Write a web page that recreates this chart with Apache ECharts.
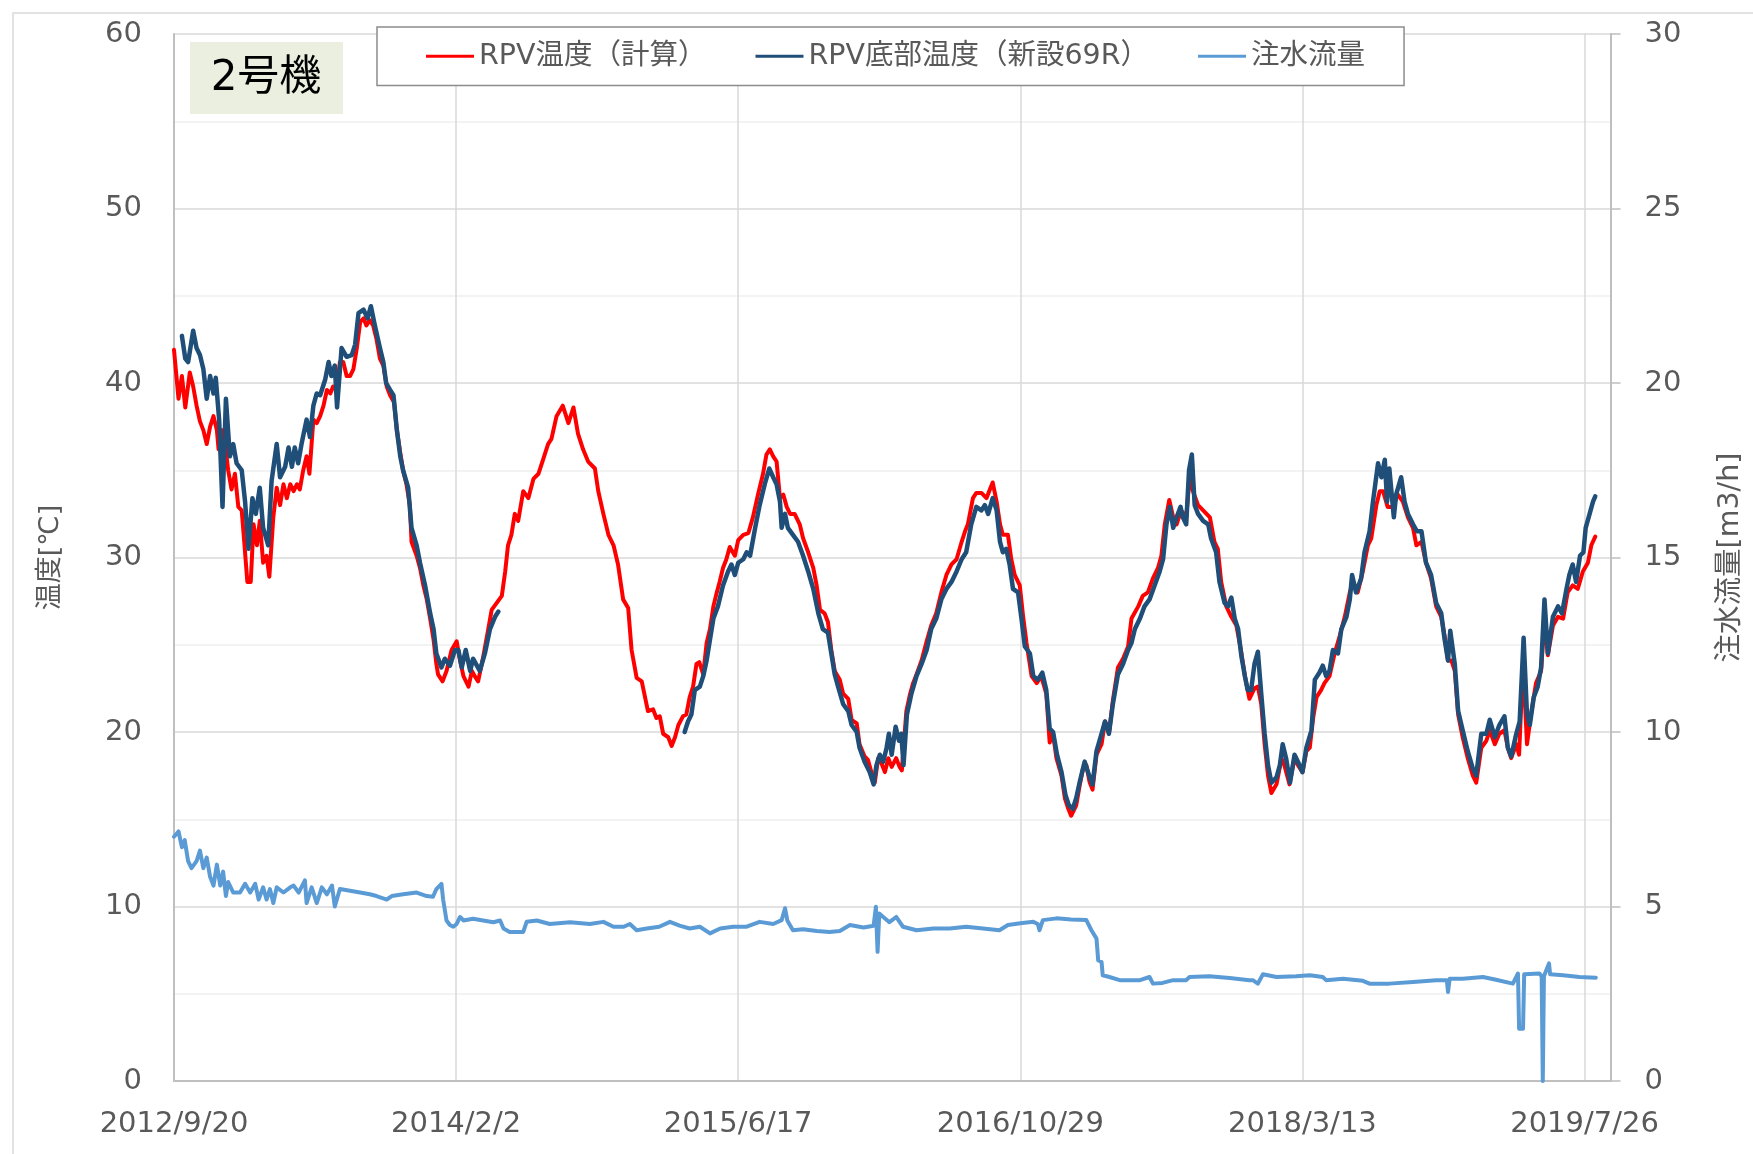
<!DOCTYPE html>
<html>
<head>
<meta charset="utf-8">
<script src="https://cdn.jsdelivr.net/npm/echarts@6/dist/echarts.min.js"></script>
<style>
  html, body { margin: 0; padding: 0; background: #ffffff; }
  #chart { width: 1753px; height: 1154px; }
</style>
</head>
<body>
<div id="chart"></div>
<script>
// Unit 2 RPV temperatures and water injection flow.
// x values are days counted from 2012/9/20.

const START_DATE = [2012, 9, 20];
const X_MAX_DAY = 2546;
const X_TICK_DAYS = 500;

const unitLabel = '2号機';
const seriesNames = ['RPV温度（計算）', 'RPV底部温度（新設69R）', '注水流量'];
const axisNames = ['温度[℃]', '注水流量[m3/h]'];

// RPV temperature (calculated), °C
const rpvCalc = [
  [0,41.9],[8,39.1],[14,40.4],[20,38.6],[28,40.6],[34,39.8],[40,38.7],[46,37.8],[52,37.3],[58,36.5],
  [64,37.5],[70,38.1],[76,37.3],[79,36.2],[85,37.3],[91,36.4],[96,35.0],[102,33.9],[108,34.8],[114,32.9],
  [120,32.7],[124,31.1],[130,28.6],[136,28.6],[141,31.9],[147,30.7],[152,32.1],[158,29.7],[164,30.1],[169,28.9],
  [176,32.3],[182,34.0],[188,33.0],[194,34.2],[200,33.4],[206,34.2],[212,33.8],[218,34.2],[223,33.9],[229,35.0],
  [235,35.8],[240,34.8],[247,37.9],[253,37.7],[259,38.1],[265,38.7],[271,39.6],[277,39.4],[282,39.8],[288,39.6],
  [294,41.2],[300,41.2],[306,40.4],[312,40.4],[318,40.8],[324,42.0],[330,43.5],[336,43.7],[341,43.3],[347,43.6],
  [353,43.3],[359,42.5],[365,41.4],[371,41.0],[377,39.8],[383,39.3],[390,38.9],[395,37.3],[401,36.0],[406,35.0],
  [412,34.2],[418,33.0],[421,30.9],[430,30.1],[436,29.4],[442,28.4],[448,27.6],[454,26.5],[460,25.3],[465,23.9],
  [468,23.3],[476,22.9],[483,23.5],[492,24.7],[501,25.2],[507,24.1],[513,23.2],[522,22.6],[528,23.5],[533,23.2],
  [539,22.9],[548,24.3],[557,25.9],[563,27.0],[572,27.4],[581,27.8],[587,29.2],[592,30.7],[598,31.3],[604,32.5],
  [610,32.1],[619,33.8],[628,33.4],[637,34.5],[646,34.8],[654,35.6],[663,36.5],[669,36.8],[678,38.1],[689,38.7],
  [699,37.7],[708,38.6],[716,37.1],[725,36.2],[734,35.5],[746,35.1],[752,33.8],[761,32.5],[770,31.3],[779,30.7],
  [787,29.6],[796,27.6],[805,27.1],[811,24.7],[820,23.1],[829,22.9],[840,21.2],[849,21.3],[855,20.8],[861,20.9],
  [867,19.9],[876,19.7],[882,19.2],[888,19.7],[894,20.4],[902,20.9],[908,21.0],[914,22.0],[920,22.6],[926,23.9],
  [931,24.0],[938,23.3],[944,25.1],[950,25.9],[956,27.2],[962,28.0],[967,28.6],[973,29.4],[979,29.9],[985,30.6],
  [994,30.1],[1000,31.0],[1009,31.3],[1018,31.4],[1026,32.3],[1035,33.6],[1044,34.8],[1050,35.9],[1056,36.2],[1062,35.8],
  [1068,35.5],[1074,33.4],[1080,33.6],[1086,32.9],[1092,32.5],[1100,32.5],[1109,31.9],[1115,31.1],[1124,30.3],[1133,29.4],
  [1139,28.4],[1145,27.0],[1153,26.8],[1159,26.3],[1165,24.7],[1171,23.5],[1180,23.0],[1186,22.2],[1195,21.9],[1201,20.7],
  [1210,20.5],[1215,19.3],[1224,18.6],[1230,18.4],[1236,17.7],[1242,17.1],[1248,18.5],[1254,18.2],[1260,17.7],[1266,18.5],
  [1272,18.0],[1280,18.5],[1286,18.0],[1290,17.8],[1298,21.2],[1304,22.1],[1310,22.8],[1316,23.3],[1325,24.1],[1334,25.2],
  [1342,26.1],[1351,26.8],[1360,28.0],[1369,29.0],[1378,29.6],[1387,29.9],[1396,30.9],[1402,31.5],[1407,31.9],[1416,33.4],
  [1422,33.7],[1431,33.7],[1440,33.4],[1446,33.9],[1451,34.3],[1458,33.2],[1464,31.9],[1469,31.3],[1478,31.3],[1484,29.9],
  [1490,29.0],[1499,28.4],[1505,26.6],[1511,25.1],[1520,23.2],[1529,22.8],[1537,23.2],[1546,22.2],[1552,19.4],[1558,19.9],
  [1564,18.5],[1573,17.5],[1579,16.2],[1585,15.6],[1590,15.2],[1599,15.8],[1605,16.9],[1611,17.9],[1617,18.1],[1623,17.1],
  [1628,16.7],[1635,18.7],[1644,19.3],[1650,20.6],[1658,20.1],[1664,21.8],[1673,23.7],[1682,24.2],[1691,24.9],[1697,26.5],
  [1709,27.2],[1717,27.8],[1726,28.0],[1735,28.8],[1744,29.4],[1750,30.1],[1756,31.9],[1764,33.3],[1771,32.3],[1777,31.9],
  [1785,32.7],[1794,32.3],[1800,34.6],[1806,33.8],[1815,33.0],[1824,32.7],[1836,32.3],[1844,30.9],[1850,30.5],[1856,28.6],
  [1865,27.2],[1874,26.6],[1883,26.1],[1892,24.5],[1898,23.2],[1906,21.9],[1915,22.5],[1921,22.6],[1927,21.6],[1933,19.3],
  [1939,17.5],[1945,16.5],[1954,17.0],[1963,18.5],[1968,18.1],[1977,17.0],[1986,18.5],[1992,18.1],[2000,17.7],[2007,18.9],
  [2013,19.1],[2019,20.8],[2025,22.0],[2033,22.4],[2039,22.8],[2048,23.2],[2057,24.5],[2066,25.5],[2075,26.6],[2084,28.0],
  [2090,28.6],[2098,28.0],[2107,29.2],[2116,30.7],[2122,31.1],[2131,33.0],[2137,33.8],[2143,33.8],[2151,32.9],[2160,32.9],
  [2169,33.6],[2178,33.2],[2187,32.3],[2196,31.7],[2202,30.7],[2211,30.9],[2219,29.7],[2228,28.8],[2237,27.2],[2246,26.6],
  [2252,25.5],[2258,24.1],[2264,24.1],[2270,23.5],[2276,21.0],[2284,19.7],[2293,18.5],[2302,17.5],[2308,17.1],[2317,19.1],
  [2326,19.5],[2332,20.1],[2341,19.3],[2349,19.9],[2358,20.1],[2364,19.1],[2370,18.5],[2379,19.3],[2384,18.7],[2391,24.0],
  [2398,19.3],[2406,21.2],[2414,22.8],[2423,23.5],[2429,26.5],[2435,24.4],[2444,26.1],[2453,26.6],[2462,26.5],[2470,28.0],
  [2479,28.4],[2488,28.2],[2497,29.2],[2506,29.7],[2512,30.7],[2519,31.2]
];

// RPV bottom temperature (new thermometer 69R), °C; the null marks the gap in records
const rpvBottom = [
  [14,42.7],[20,41.4],[25,41.2],[34,43.0],[40,42.0],[46,41.6],[52,40.8],[58,39.1],[64,40.4],[70,39.4],
  [74,40.3],[80,37.9],[86,32.9],[92,39.1],[99,35.8],[105,36.5],[111,35.4],[120,35.0],[126,33.2],[132,30.5],
  [139,33.4],[145,32.5],[152,34.0],[158,31.7],[167,30.7],[173,34.4],[182,36.5],[188,34.6],[197,35.2],[203,36.3],
  [209,35.2],[214,36.3],[220,35.4],[226,36.5],[235,37.9],[241,36.9],[247,38.7],[253,39.4],[259,39.3],[268,40.2],
  [274,41.2],[279,40.4],[285,41.0],[289,38.6],[297,42.0],[306,41.5],[315,41.6],[321,42.2],[327,44.0],[336,44.2],
  [343,43.7],[349,44.4],[356,43.3],[365,42.0],[371,41.2],[376,40.0],[383,39.6],[389,39.3],[395,37.3],[401,35.8],
  [406,35.0],[415,34.0],[421,31.7],[430,30.7],[436,29.7],[445,28.4],[454,26.8],[460,25.9],[465,24.5],[474,23.7],
  [480,24.2],[489,23.8],[498,24.7],[504,24.7],[510,23.7],[517,24.7],[525,23.5],[530,24.2],[542,23.5],[551,24.5],
  [560,25.9],[569,26.6],[575,26.9],[740,null],
  [905,20.0],[911,20.6],[917,21.0],[923,22.4],[932,22.6],[938,23.2],[944,24.1],[950,25.3],[956,26.5],[964,27.2],
  [973,28.4],[982,29.2],[988,29.6],[994,29.0],[1000,29.7],[1009,29.9],[1015,30.3],[1021,30.1],[1030,31.7],[1038,33.0],
  [1047,34.2],[1055,35.1],[1062,34.6],[1068,34.2],[1074,33.2],[1077,31.7],[1083,32.5],[1088,31.7],[1097,31.3],[1106,30.9],
  [1115,30.1],[1124,29.2],[1133,28.2],[1142,26.8],[1150,25.9],[1159,25.7],[1165,24.5],[1171,23.3],[1177,22.6],[1186,21.6],
  [1195,21.2],[1201,20.4],[1210,20.0],[1215,19.1],[1224,18.3],[1233,17.7],[1240,17.0],[1245,18.1],[1251,18.7],[1257,18.3],
  [1263,19.1],[1267,19.9],[1272,18.7],[1279,20.3],[1285,19.5],[1289,19.9],[1293,18.1],[1299,21.0],[1307,22.2],[1316,23.2],
  [1325,23.9],[1334,24.7],[1342,25.9],[1351,26.5],[1360,27.6],[1369,28.2],[1378,28.6],[1387,29.2],[1396,29.9],[1404,30.3],
  [1413,31.9],[1422,32.9],[1431,32.7],[1437,33.0],[1443,32.5],[1451,33.4],[1458,32.7],[1464,30.9],[1469,30.3],[1475,30.5],
  [1481,29.6],[1487,28.2],[1496,28.0],[1502,26.5],[1508,24.9],[1517,24.5],[1523,23.2],[1531,23.0],[1539,23.4],[1546,22.4],
  [1552,20.2],[1558,20.0],[1565,18.7],[1573,17.7],[1580,16.4],[1586,15.8],[1593,15.6],[1599,16.2],[1605,17.1],[1614,18.3],
  [1622,17.5],[1628,17.0],[1635,18.9],[1644,19.9],[1650,20.6],[1657,19.9],[1664,21.6],[1673,23.3],[1682,23.9],[1691,24.7],
  [1697,25.1],[1703,25.9],[1712,26.5],[1720,27.2],[1729,27.6],[1738,28.4],[1747,29.2],[1753,29.9],[1759,31.9],[1765,32.9],
  [1771,31.7],[1777,32.3],[1784,32.9],[1788,32.3],[1794,31.9],[1799,35.0],[1804,35.9],[1809,33.0],[1815,32.5],[1824,32.1],
  [1833,31.9],[1838,31.1],[1847,30.3],[1853,28.6],[1862,27.4],[1868,27.2],[1874,27.7],[1880,26.5],[1886,25.9],[1892,24.3],
  [1898,23.2],[1903,22.4],[1909,22.4],[1915,23.9],[1921,24.6],[1927,22.2],[1933,19.9],[1939,18.1],[1945,17.1],[1954,17.4],
  [1960,18.1],[1965,19.3],[1971,18.5],[1978,17.1],[1986,18.7],[1992,18.3],[2000,17.7],[2007,19.1],[2016,20.1],[2022,23.0],
  [2030,23.4],[2036,23.8],[2042,23.2],[2048,23.5],[2054,24.7],[2063,24.5],[2069,25.9],[2078,26.6],[2084,27.6],[2088,29.0],
  [2095,28.0],[2104,28.8],[2110,30.3],[2119,31.5],[2125,33.2],[2134,35.4],[2140,34.6],[2146,35.6],[2150,33.2],[2154,35.1],
  [2162,32.3],[2166,33.6],[2175,34.6],[2181,33.2],[2187,32.5],[2196,31.9],[2203,31.5],[2211,31.5],[2219,29.7],[2228,29.0],
  [2237,27.4],[2246,26.8],[2252,25.3],[2258,24.1],[2262,25.8],[2270,23.9],[2276,21.2],[2284,20.1],[2293,18.9],[2302,17.9],
  [2308,17.5],[2317,19.9],[2326,19.9],[2332,20.7],[2341,19.7],[2349,20.4],[2358,20.9],[2364,19.1],[2370,18.6],[2379,19.9],
  [2385,20.6],[2392,25.4],[2398,21.0],[2403,20.4],[2410,22.0],[2417,22.6],[2423,23.7],[2429,27.6],[2435,24.5],[2444,26.6],
  [2453,27.2],[2460,26.8],[2468,28.2],[2473,29.0],[2479,29.6],[2485,28.6],[2492,30.1],[2498,30.3],[2502,31.7],[2509,32.5],
  [2515,33.2],[2519,33.5]
];

// Water injection flow, m3/h (right axis)
const injectionFlow = [
  [0,7.0],[8,7.15],[14,6.7],[19,6.9],[25,6.3],[31,6.1],[40,6.3],[46,6.6],[52,6.1],[58,6.4],
  [64,5.85],[70,5.6],[76,6.2],[82,5.6],[87,6.0],[92,5.3],[96,5.7],[105,5.4],[117,5.4],[126,5.65],
  [135,5.4],[144,5.65],[150,5.2],[158,5.55],[164,5.2],[170,5.5],[176,5.1],[182,5.55],[194,5.4],[206,5.55],
  [212,5.6],[221,5.4],[232,5.75],[235,5.1],[244,5.55],[253,5.1],[262,5.55],[271,5.35],[280,5.6],[285,5.0],
  [294,5.5],[312,5.45],[330,5.4],[347,5.35],[359,5.3],[377,5.2],[386,5.3],[406,5.35],[430,5.4],[448,5.3],
  [459,5.28],[465,5.5],[474,5.65],[477,5.2],[483,4.6],[489,4.47],[495,4.42],[501,4.5],[507,4.7],[513,4.6],
  [530,4.65],[548,4.6],[566,4.55],[578,4.6],[584,4.37],[595,4.27],[619,4.27],[625,4.56],[643,4.6],[666,4.5],
  [702,4.55],[737,4.5],[761,4.56],[779,4.42],[797,4.42],[808,4.5],[820,4.32],[838,4.37],[860,4.42],[879,4.56],
  [896,4.45],[914,4.37],[932,4.42],[950,4.23],[968,4.37],[991,4.42],[1015,4.42],[1038,4.56],[1062,4.5],[1077,4.61],
  [1083,4.95],[1087,4.6],[1097,4.32],[1115,4.35],[1139,4.3],[1162,4.27],[1180,4.3],[1198,4.47],[1222,4.4],[1240,4.45],
  [1244,4.99],[1247,3.7],[1250,4.8],[1257,4.7],[1268,4.55],[1280,4.7],[1292,4.42],[1316,4.32],[1346,4.37],[1375,4.37],
  [1404,4.42],[1434,4.37],[1463,4.32],[1478,4.47],[1500,4.52],[1523,4.56],[1531,4.5],[1534,4.32],[1540,4.61],[1564,4.66],
  [1590,4.63],[1617,4.61],[1626,4.32],[1635,4.08],[1638,3.46],[1644,3.41],[1646,3.03],[1658,2.98],[1676,2.89],[1694,2.89],
  [1712,2.89],[1729,2.98],[1735,2.79],[1752,2.81],[1771,2.89],[1794,2.89],[1800,2.98],[1835,3.0],[1871,2.95],[1906,2.89],
  [1912,2.89],[1921,2.79],[1930,3.06],[1954,2.98],[1989,3.0],[2013,3.03],[2036,2.98],[2042,2.89],[2072,2.93],[2107,2.87],
  [2119,2.79],[2154,2.79],[2196,2.84],[2237,2.89],[2256,2.89],[2258,2.55],[2261,2.93],[2284,2.93],[2320,2.98],[2343,2.9],
  [2373,2.79],[2382,3.08],[2384,1.5],[2391,1.5],[2393,3.06],[2420,3.08],[2424,3.0],[2426,0],[2428,3.0],[2437,3.37],
  [2439,3.06],[2462,3.03],[2491,2.98],[2520,2.96]
];

const FONT = "'DejaVu Sans', 'Noto Sans CJK JP', sans-serif";
const TEXT_GRAY = '#595959';
const AXIS_GRAY = '#bfbfbf';
const GRID_GRAY = '#d9d9d9';
const MINOR_GRAY = '#f0f0f0';

function dayToDate(d) {
  const dt = new Date(START_DATE[0], START_DATE[1] - 1, START_DATE[2] + d);
  return dt.getFullYear() + '/' + (dt.getMonth() + 1) + '/' + dt.getDate();
}

const chart = echarts.init(document.getElementById('chart'), null, { renderer: 'canvas' });

chart.setOption({
  animation: false,
  backgroundColor: '#ffffff',
  color: ['#ff0000', '#1f4e79', '#5b9bd5'],
  grid: { left: 174, top: 34, width: 1437, height: 1047, containLabel: false },
  legend: {
    left: 377,
    top: 27,
    orient: 'horizontal',
    icon: 'rect',
    itemWidth: 48,
    itemHeight: 3,
    itemGap: 49,
    padding: [15, 39, 15, 49],
    backgroundColor: '#ffffff',
    borderColor: '#8c8c8c',
    borderWidth: 1.5,
    itemStyle: { borderWidth: 0 },
    textStyle: { color: TEXT_GRAY, fontSize: 28.5, fontFamily: FONT },
    data: seriesNames
  },
  xAxis: {
    type: 'value',
    min: 0,
    max: X_MAX_DAY,
    interval: X_TICK_DAYS,
    axisLine: { show: true, lineStyle: { color: AXIS_GRAY, width: 2 } },
    axisTick: { show: false },
    axisLabel: {
      color: TEXT_GRAY,
      fontSize: 29,
      fontFamily: FONT,
      margin: 29,
      showMaxLabel: false,
      formatter: function (v) { return v % X_TICK_DAYS === 0 ? dayToDate(v) : ''; }
    },
    splitLine: { show: true, lineStyle: { color: GRID_GRAY, width: 1.5 } }
  },
  yAxis: [
    {
      type: 'value',
      position: 'left',
      min: 0,
      max: 60,
      interval: 10,
      name: axisNames[0],
      nameLocation: 'middle',
      nameRotate: 90,
      nameGap: 110,
      nameTextStyle: { color: TEXT_GRAY, fontSize: 27, fontFamily: FONT },
      axisLine: { show: true, lineStyle: { color: AXIS_GRAY, width: 2 } },
      axisTick: { show: false },
      axisLabel: { color: TEXT_GRAY, fontSize: 29, fontFamily: FONT, margin: 32 },
      splitLine: { show: true, lineStyle: { color: GRID_GRAY, width: 1.5 } },
      minorTick: { show: false, splitNumber: 2 },
      minorSplitLine: { show: true, lineStyle: { color: MINOR_GRAY, width: 1.5 } }
    },
    {
      type: 'value',
      position: 'right',
      min: 0,
      max: 30,
      interval: 5,
      name: axisNames[1],
      nameLocation: 'middle',
      nameRotate: 90,
      nameGap: 106,
      nameTextStyle: { color: TEXT_GRAY, fontSize: 28.5, fontFamily: FONT },
      axisLine: { show: true, lineStyle: { color: AXIS_GRAY, width: 2 } },
      axisTick: { show: true, inside: false, length: 10, lineStyle: { color: AXIS_GRAY, width: 1.5 } },
      axisLabel: { color: TEXT_GRAY, fontSize: 29, fontFamily: FONT, margin: 34 },
      splitLine: { show: false }
    }
  ],
  graphic: [
    {
      type: 'rect',
      z: -10,
      silent: true,
      shape: { x: 13, y: 13, width: 1800, height: 1200 },
      style: { fill: 'none', stroke: '#d9d9d9', lineWidth: 1.5 }
    },
    {
      type: 'group',
      z: 100,
      children: [
        {
          type: 'rect',
          shape: { x: 190, y: 42, width: 153, height: 72 },
          style: { fill: '#ebefdf' }
        },
        {
          type: 'text',
          style: {
            text: unitLabel,
            x: 266,
            y: 79,
            align: 'center',
            verticalAlign: 'middle',
            fontSize: 42,
            fontFamily: FONT,
            fill: '#000000'
          }
        }
      ]
    }
  ],
  series: [
    {
      name: seriesNames[0],
      type: 'line',
      yAxisIndex: 0,
      showSymbol: false,
      symbol: 'none',
      connectNulls: false,
      lineStyle: { width: 4, color: '#ff0000', join: 'round', cap: 'round' },
      data: rpvCalc
    },
    {
      name: seriesNames[1],
      type: 'line',
      yAxisIndex: 0,
      showSymbol: false,
      symbol: 'none',
      connectNulls: false,
      lineStyle: { width: 4.5, color: '#1f4e79', join: 'round', cap: 'round' },
      data: rpvBottom
    },
    {
      name: seriesNames[2],
      type: 'line',
      yAxisIndex: 1,
      showSymbol: false,
      symbol: 'none',
      lineStyle: { width: 4, color: '#5b9bd5', join: 'round', cap: 'round' },
      data: injectionFlow
    }
  ]
});
</script>
</body>
</html>
